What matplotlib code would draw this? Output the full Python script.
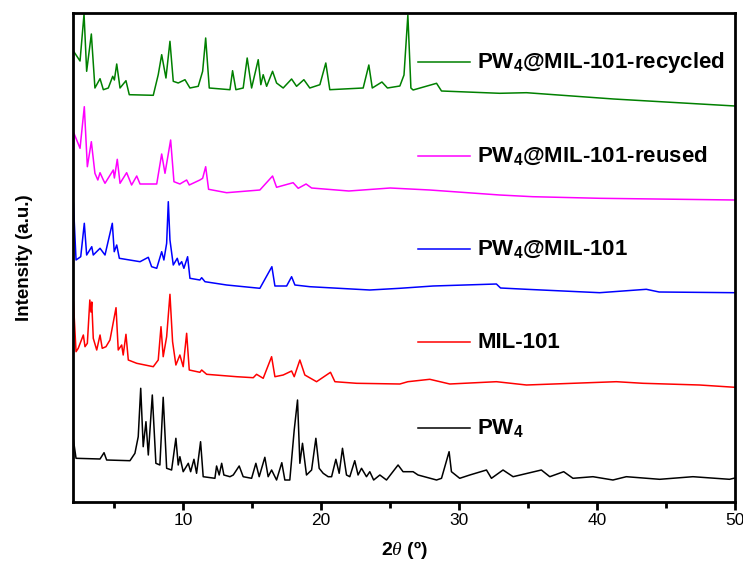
import matplotlib
matplotlib.use("Agg")
import matplotlib.pyplot as plt
from matplotlib.ticker import MultipleLocator

plt.rcParams['font.family'] = ['Liberation Sans', 'DejaVu Sans']
plt.rcParams['mathtext.fontset'] = 'custom'
plt.rcParams['mathtext.rm'] = 'Liberation Sans:bold'
plt.rcParams['mathtext.bf'] = 'Liberation Sans:bold'
plt.rcParams['mathtext.it'] = 'Liberation Serif:italic'

# ---- data: 2theta (deg) and stacked intensity (a.u., offset included) ----
recycled_x = [2.03, 2.51, 2.80, 2.99, 3.33, 3.59, 3.96, 4.20, 4.56, 4.88, 5.00, 5.17, 5.41, 5.84, 6.08,
              7.82, 8.18, 8.43, 8.74, 9.03, 9.27, 9.63, 10.12, 10.48, 11.08, 11.40, 11.62, 11.88, 13.38,
              13.57, 13.81, 14.34, 14.63, 14.95, 15.43, 15.62, 15.79, 16.04, 16.47, 16.76, 17.24, 17.85,
              18.21, 18.74, 19.17, 19.90, 20.33, 20.62, 23.04, 23.45, 23.70, 24.40, 24.80, 25.70, 26.00,
              26.28, 26.50, 26.66, 28.36, 28.72, 32.94, 34.88, 41.20, 50.00]
recycled_y = [451, 441, 488, 430.7, 468, 414, 423.3, 412.3, 414, 425.7, 422, 438, 414, 421.3, 407.3,
              406.7, 427.3, 447.3, 424, 460.7, 420.7, 419, 422.3, 414, 415.7, 430.7, 464, 414, 412.3,
              431.3, 412.3, 414, 444, 414, 442.3, 417.3, 427.3, 415.7, 430.7, 419, 414, 423,
              415.7, 422.3, 414, 417.3, 439, 412.3, 414, 437, 414, 420, 414, 416, 427,
              487, 414, 412, 418.7, 411, 408.7, 409.3, 403, 396]

reused_x = [2.07, 2.51, 2.82, 3.04, 3.33, 3.59, 3.80, 3.96, 4.20, 4.32, 4.92, 5.00, 5.21, 5.41, 5.89,
            6.25, 6.62, 6.86, 8.07, 8.43, 8.67, 9.08, 9.32, 9.75, 10.24, 10.43, 11.20, 11.40, 11.62,
            11.83, 13.14, 15.55, 16.47, 16.76, 17.96, 18.33, 18.90, 19.30, 22.00, 25.00, 27.87,
            32.94, 35.33, 40.19, 50.00]
reused_y = [368.7, 353.7, 395.3, 335.3, 360.3, 328.7, 322, 329.3, 322, 318.7, 332, 324, 342.7, 318.7, 329.3,
            317, 326, 318, 318, 348, 328.7, 362, 320.3, 318, 322, 317, 322, 323.7, 335.3,
            312.7, 309.3, 312, 326, 314.7, 319.3, 313.7, 318, 314, 311, 314, 312,
            307, 305.3, 303.7, 302]

pwmil_x = [2.03, 2.22, 2.56, 2.82, 2.99, 3.36, 3.47, 3.96, 4.32, 4.85, 4.99, 5.17, 5.36, 6.86, 7.46,
           7.70, 8.07, 8.43, 8.59, 8.79, 8.91, 9.03, 9.27, 9.56, 9.70, 9.88, 10.04, 10.31, 10.48,
           11.20, 11.33, 11.57, 13.14, 15.55, 16.42, 16.64, 17.49, 17.85, 18.09, 19.17, 23.52,
           25.70, 28.11, 32.70, 33.00, 34.88, 40.19, 43.57, 44.50, 50.00]
pwmil_y = [299, 242, 245.3, 278.7, 247, 255.3, 247, 253.7, 247, 278.7, 250.3, 257, 243.7, 240.3, 244.7,
           235.3, 233.7, 250.3, 242, 258.7, 300.3, 262, 237, 243.7, 237, 240.3, 233.7, 245.3, 223.7,
           222, 224.3, 220.3, 217, 213.7, 235.3, 216, 216, 225.3, 217, 215.3, 212,
           213.7, 216, 218, 214, 212.7, 209.3, 212.7, 210, 209.3]

mil_x = [2.03, 2.22, 2.38, 2.75, 2.87, 3.04, 3.22, 3.30, 3.36, 3.47, 3.72, 3.96, 4.12, 4.39, 4.68,
         5.12, 5.28, 5.53, 5.64, 5.84, 6.01, 6.62, 7.82, 8.18, 8.38, 8.54, 8.79, 9.03, 9.22, 9.46,
         9.75, 9.99, 10.24, 10.43, 11.20, 11.33, 11.69, 13.86, 15.07, 15.31, 15.79, 16.40, 16.64,
         17.24, 17.85, 18.04, 18.45, 18.81, 19.66, 20.67, 20.99, 22.56, 25.70, 26.28, 27.87,
         29.32, 32.70, 34.88, 41.40, 43.33, 47.43, 50.00]
mil_y = [200.3, 150.3, 153.7, 167, 155.3, 158.7, 202, 190, 200, 163.7, 152, 167, 153.7, 155.3, 162,
         194.3, 152, 157, 147, 167.7, 142, 138.7, 135.3, 142, 175.3, 145.3, 165.3, 207.7, 160.3, 137,
         147, 135.3, 168.7, 132, 129.7, 132, 127.7, 125.3, 124.3, 127.7, 123.7, 145.3, 125.3,
         127, 131, 125.3, 142, 127, 120.3, 129.7, 120.3, 118.7, 118, 120.3, 122.7,
         118, 120.3, 117, 120.3, 118.7, 117, 114.7]

pw_x = [2.03, 2.22, 3.96, 4.25, 4.44, 6.13, 6.49, 6.73, 6.91, 7.09, 7.29, 7.46, 7.75, 8.01, 8.30,
        8.54, 8.79, 9.15, 9.46, 9.63, 9.75, 9.99, 10.36, 10.53, 10.77, 10.96, 11.25, 11.44, 12.29,
        12.41, 12.60, 12.78, 12.94, 13.38, 13.62, 14.05, 14.34, 14.95, 15.26, 15.50, 15.91, 16.15,
        16.40, 16.76, 17.14, 17.36, 17.72, 18.04, 18.28, 18.45, 18.64, 18.93, 19.30, 19.61, 19.85,
        20.14, 20.50, 20.75, 21.06, 21.30, 21.54, 21.83, 22.07, 22.43, 22.67, 22.92, 23.28, 23.52,
        23.80, 24.25, 24.73, 25.57, 25.93, 26.66, 27.02, 28.36, 28.72, 29.27, 29.44, 30.04, 30.77,
        31.98, 32.34, 33.18, 33.91, 35.96, 36.57, 37.58, 38.25, 39.70, 41.15, 42.12, 44.54, 46.95,
        49.60, 50.00]
pw_y = [62, 43.7, 43, 49.3, 42, 41.3, 48.7, 65.3, 113.7, 55.3, 80.3, 47, 107, 38.7, 37,
        104.7, 33.7, 32, 63.7, 37, 45.3, 30.3, 38.7, 30.3, 42.7, 28.7, 60.3, 25.3, 23.7,
        36, 27, 38.7, 27, 25.3, 27, 36, 25.3, 23.7, 38.7, 25.3, 44.7, 25.3,
        32, 22, 39.3, 22, 22, 72, 102, 38.7, 58.7, 27, 32, 63.7, 33.7,
        28.7, 25.3, 25.3, 42.7, 28.7, 53.7, 27, 25.3, 41.3, 27, 33.7, 25.3, 30.3,
        22, 27, 22, 37, 30.3, 30.3, 27, 22, 23.7, 50.3, 30.3, 23.7, 27,
        32, 23.7, 32, 25.3, 32, 25.3, 30.3, 23.7, 25.3, 22, 25.3, 22.7, 25.3,
        22.7, 24]

labels = [r"PW$_4$@MIL-101-recycled", r"PW$_4$@MIL-101-reused", r"PW$_4$@MIL-101", "MIL-101", r"PW$_4$"]
colors = ["#008000", "#ff00ff", "#0000ff", "#ff0000", "#000000"]
label_y = [439.7, 346.3, 253, 159.7, 73.7]   # vertical anchor of each label row (a.u.)
xs = [recycled_x, reused_x, pwmil_x, mil_x, pw_x]
ys = [recycled_y, reused_y, pwmil_y, mil_y, pw_y]

fig = plt.figure(figsize=(7.43, 5.74), dpi=100)
ax = fig.add_axes([73/743, 1 - 502/574, (735-73)/743, (502-13)/574])

for x, y, c in zip(xs, ys, colors):
    ax.plot(x, y, color=c, lw=1.1)

for lab, c, ly in zip(labels, colors, label_y):
    ax.plot([27.0, 30.75], [ly, ly], color=c, lw=1.1)
    ax.text(31.3, ly, lab, fontsize=16, fontweight='bold', va='center', ha='left')

ax.set_xlim(2, 50)
ax.set_ylim(0, 489)
ax.xaxis.set_major_locator(MultipleLocator(10))
ax.xaxis.set_minor_locator(MultipleLocator(5))
ax.set_xticks([10, 20, 30, 40, 50])
ax.tick_params(axis='x', which='major', direction='out', length=6, width=2, labelsize=12.5, pad=2)
ax.tick_params(axis='x', which='minor', direction='out', length=4, width=2)
ax.set_yticks([])
for s in ax.spines.values():
    s.set_linewidth(2)

ax.set_ylabel("Intensity (a.u.)", fontsize=13.5, fontweight='bold', labelpad=29)
ax.set_xlabel(r"2$\it{\theta}$ (º)", fontsize=14, fontweight='bold', labelpad=8)

fig.savefig("out.png", dpi=100)
